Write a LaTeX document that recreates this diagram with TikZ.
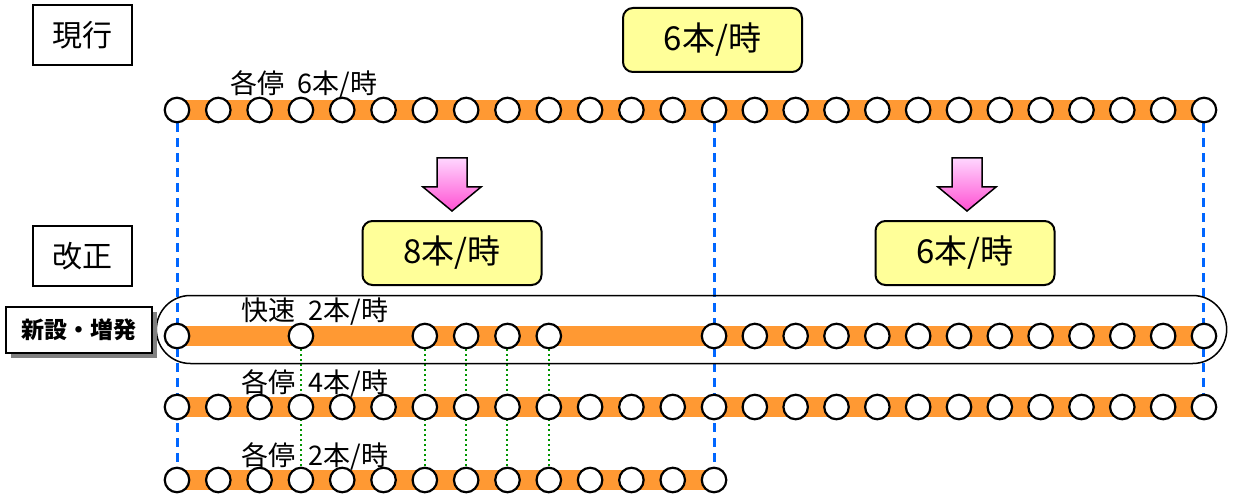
\documentclass[tikz,border=0pt]{standalone}
\usepackage{fontspec}
\setmainfont{Noto Sans CJK JP}
\usetikzlibrary{calc,backgrounds,shapes.misc,shadows}

\definecolor{lineorange}{RGB}{255,153,51}
\definecolor{guideblue}{RGB}{0,102,255}
\definecolor{guidegreen}{RGB}{0,150,0}
\definecolor{boxyellow}{RGB}{255,255,153}
\definecolor{arrowtop}{RGB}{255,214,255}
\definecolor{arrowbot}{RGB}{255,80,210}

\tikzset{
	stn/.style={circle,draw,line width=2.2pt,fill=white,minimum size=24.5pt,inner sep=0pt},
	track/.style={lineorange,line width=19.5pt},
	svc/.style={inner sep=0pt,font=\fontsize{27}{30}\selectfont},
	titlebox/.style={draw,line width=2pt,minimum width=99pt,minimum height=60pt,font=\fontsize{30}{36}\selectfont},
	ratebox/.style={draw,line width=2pt,fill=boxyellow,rounded corners=10pt,minimum width=179pt,minimum height=64pt,font=\fontsize{33}{38}\selectfont},
	newtag/.style={draw,line width=2.5pt,fill=white,minimum width=146pt,minimum height=46pt,font=\fontsize{23}{28}\selectfont\bfseries,
		drop shadow={shadow xshift=5pt,shadow yshift=-5pt,fill=black!50,opacity=1}},
	blueguide/.style={guideblue,line width=3pt,dash pattern=on 9pt off 6pt},
	greenguide/.style={guidegreen,line width=2pt,dash pattern=on 2pt off 3pt},
}

\begin{document}
\begin{tikzpicture}[x=1pt,y=-1pt]
	\useasboundingbox (0,0) rectangle (1233,497);
	\node[titlebox] (now) at (82.5,35) {現行};
	\node[titlebox] (rev) at (82.5,256) {改正};
	\node[ratebox] (rate1) at (712.5,40) {6本/時};
	\node[ratebox] (rate2) at (452,253) {8本/時};
	\node[ratebox] (rate3) at (965,253) {6本/時};
	\foreach \ax in {452,967}
		\shadedraw[top color=arrowtop,bottom color=arrowbot,draw=black,line width=1.5pt,line join=miter]
			(\ax-15,158) -- (\ax+15,158) -- (\ax+15,187) -- (\ax+29,187) -- (\ax,211) -- (\ax-29,187) -- (\ax-15,187) -- cycle;
	\node[rounded rectangle,draw,line width=1.5pt,minimum width=1077pt,minimum height=68pt] (newsvc) at (691.5,329.5) {};
	\node[newtag] (tag) at (79,330) {新設・増発};
	\foreach \i in {1,...,26}{
		\pgfmathsetmacro\px{\i<15 ? 177+(\i-1)*41.31 : 714+(\i-14)*40.83}
		\node[stn] (cur\i) at (\px,110) {};
		\node[stn] (locA\i) at (\px,407) {};
	}
	\foreach \i in {1,4,7,8,9,10,14,15,...,26}{
		\pgfmathsetmacro\px{\i<15 ? 177+(\i-1)*41.31 : 714+(\i-14)*40.83}
		\node[stn] (rap\i) at (\px,336) {};
	}
	\foreach \i in {1,...,14}{
		\pgfmathsetmacro\px{177+(\i-1)*41.31}
		\node[stn] (locB\i) at (\px,480) {};
	}
	\node[svc] (curlbl) at (304,84) {各停\hspace{.5em}6本/時};
	\node[svc] (raplbl) at (315,312) {快速\hspace{.5em}2本/時};
	\node[svc] (locAlbl) at (315,383) {各停\hspace{.5em}4本/時};
	\node[svc] (locBlbl) at (315,456) {各停\hspace{.5em}2本/時};
	\begin{pgfonlayer}{background}
		\draw[track] (cur1.center) -- (cur26.center);
		\draw[track] (rap1.center) -- (rap26.center);
		\draw[track] (locA1.center) -- (locA26.center);
		\draw[track] (locB1.center) -- (locB14.center);
		\draw[blueguide] (cur1) -- (locB1);
		\draw[blueguide] (cur14) -- (locB14);
		\draw[blueguide] (cur26) -- (locA26);
		\foreach \i in {4,7,8,9,10}
			\draw[greenguide] (rap\i) -- (locB\i);
	\end{pgfonlayer}
\end{tikzpicture}
\end{document}
